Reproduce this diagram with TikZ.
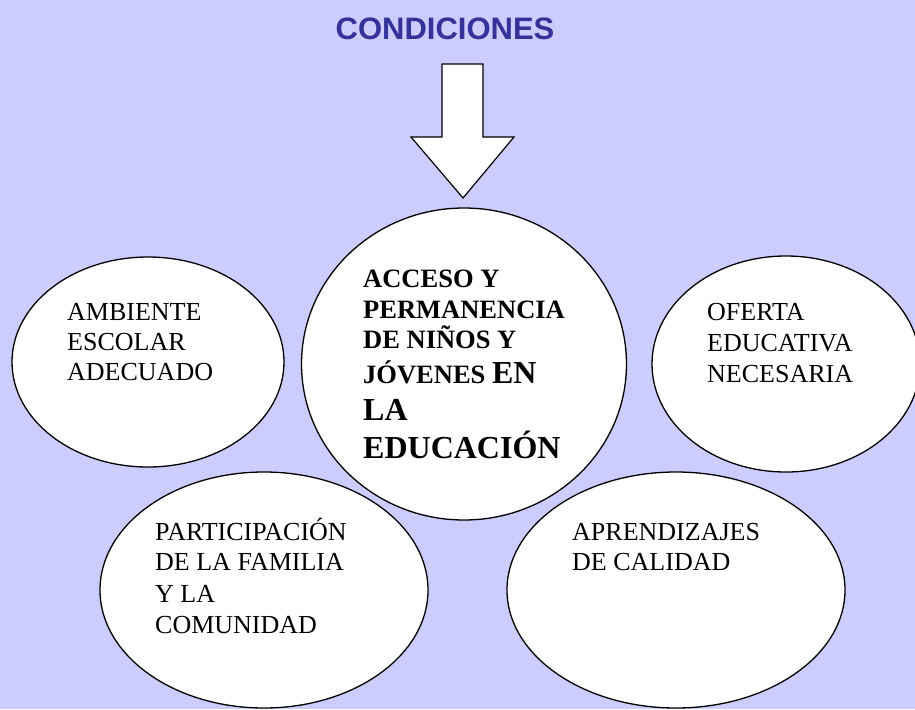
\documentclass[tikz,border=0pt]{standalone}
\usepackage{fontspec}
\setmainfont{Liberation Serif}
\newfontfamily\titlefont{Liberation Sans}
\usetikzlibrary{shapes.geometric}
\definecolor{bgc}{HTML}{CCCCFF}
\definecolor{titc}{HTML}{333399}
\begin{document}
\begin{tikzpicture}[x=1pt,y=-1pt,
  ell/.style={ellipse, draw=black, line width=1.3pt, fill=white, inner sep=0pt},
  lbl/.style={anchor=base west, inner sep=0pt, font=\fontsize{26}{30}\selectfont},
  blbl/.style={anchor=base west, inner sep=0pt, font=\fontsize{26.5}{30}\selectfont\bfseries},
  big/.style={font=\fontsize{32}{36}\selectfont\bfseries},
  arrowshape/.style={draw=black, fill=white, line width=1.2pt, line join=miter}
]
\fill[bgc] (0,0) rectangle (915,709);
\useasboundingbox (0,0) rectangle (915,709);
\clip (0,0) rectangle (915,709);

% title
\node[anchor=base, inner sep=0pt, text=titc, font=\titlefont\bfseries\fontsize{31}{34}\selectfont] (title) at (445,40) {CONDICIONES};

% block arrow
\draw[arrowshape] (442,64) -- (483,64) -- (483,137) -- (514,137) -- (463,198) -- (411,137) -- (442,137) -- cycle;

% ellipses
\node[ell, minimum width=272pt, minimum height=210pt] (amb) at (148,362) {};
\node[ell, minimum width=268pt, minimum height=216pt] (ofe) at (786,364) {};
\node[ell, minimum width=328pt, minimum height=236pt] (par) at (264,590) {};
\node[ell, minimum width=338pt, minimum height=236pt] (apr) at (676,590) {};
\node[ell, minimum width=325pt, minimum height=312pt] (acc) at (464,364) {};

% texts
\node[lbl] (amb1) at (67,320) {AMBIENTE};
\node[lbl] (amb2) at (67,350) {ESCOLAR};
\node[lbl] (amb3) at (67,380) {ADECUADO};

\node[lbl] (ofe1) at (707,320) {OFERTA};
\node[lbl] (ofe2) at (707,351) {EDUCATIVA};
\node[lbl] (ofe3) at (707,382) {NECESARIA};

\node[lbl] (par1) at (155,540) {PARTICIPACIÓN};
\node[lbl] (par2) at (155,570) {DE LA FAMILIA};
\node[lbl] (par3) at (155,602) {Y LA};
\node[lbl] (par4) at (155,633) {COMUNIDAD};

\node[lbl] (apr1) at (572,540) {APRENDIZAJES};
\node[lbl] (apr2) at (572,570) {DE CALIDAD};

\node[blbl] (acc1) at (363,287) {ACCESO Y};
\node[blbl] (acc2) at (363,318) {PERMANENCIA};
\node[blbl] (acc3) at (363,348) {DE NIÑOS Y};
\node[blbl] (acc4) at (363,383) {JÓVENES {\fontsize{32}{36}\selectfont EN}};
\node[blbl, big] (acc5) at (363,420) {LA};
\node[blbl, big] (acc6) at (363,458) {EDUCACIÓN};
\end{tikzpicture}
\end{document}
